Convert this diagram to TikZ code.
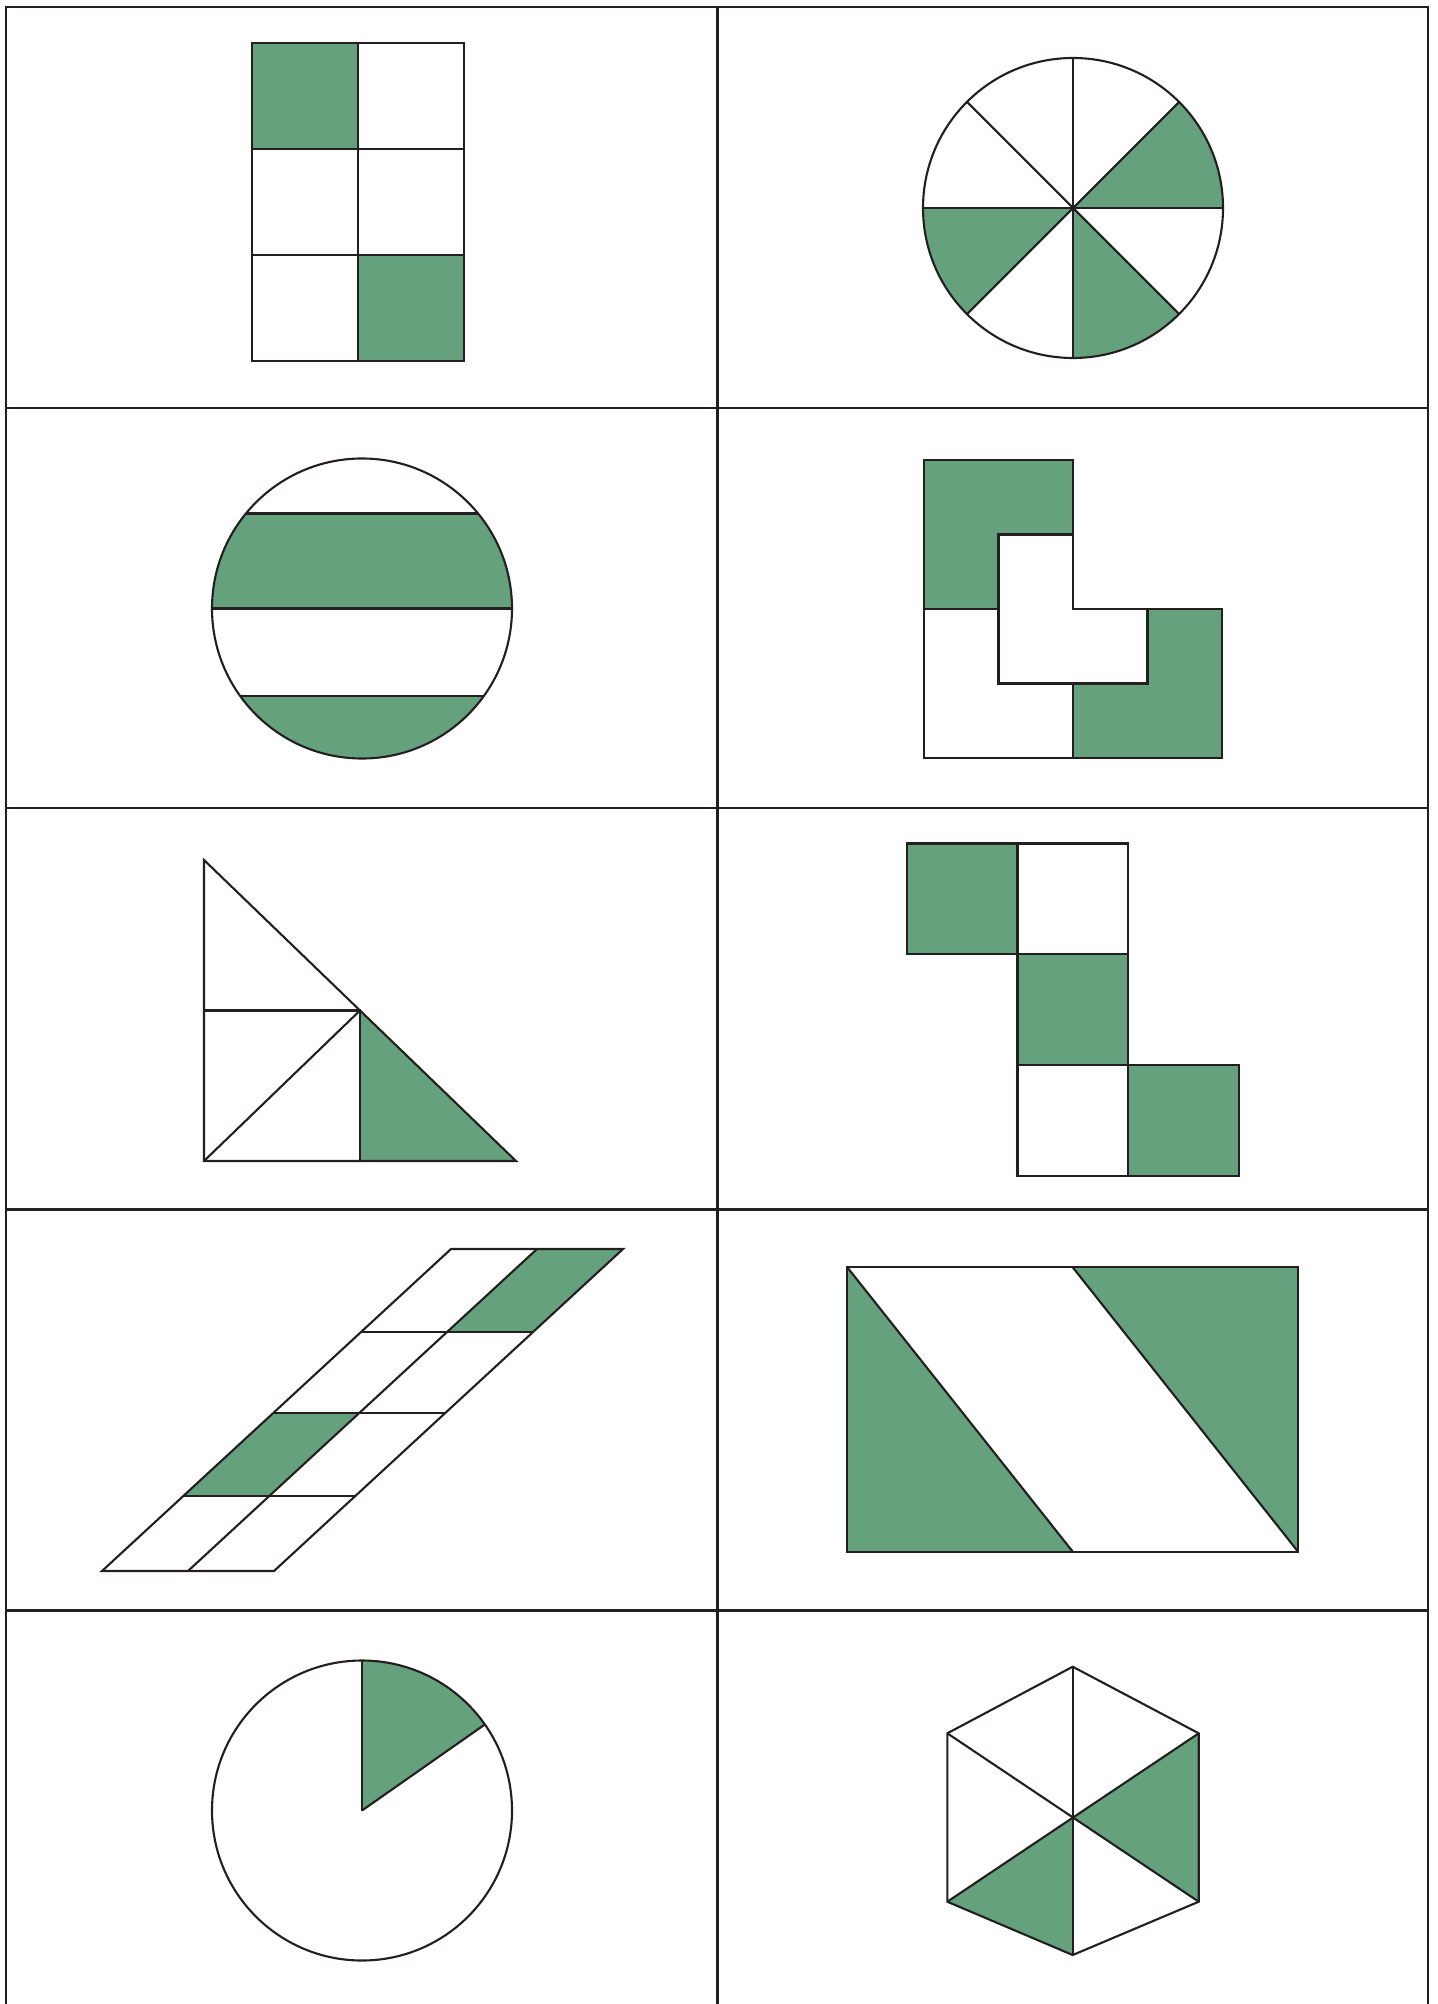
\documentclass[tikz,border=0pt]{standalone}
\usepackage{tikz}
\definecolor{shade}{RGB}{101,161,124}
\definecolor{ink}{RGB}{35,31,32}

\begin{document}
\begin{tikzpicture}[x=0.01cm,y=-0.01cm,line join=miter,
    rule/.style={draw=ink,line width=0.7pt},
    edge/.style={draw=ink,line width=0.6pt},
    part/.style={fill=shade}]
    \useasboundingbox (0,0) rectangle (1437,2004);

    % table
    \draw[rule] (6,2004) -- (6,7) -- (1428,7) -- (1428,2004);
    \draw[rule] (717.7,7) -- (717.7,2004);
    \foreach \y in {408,808,1209.5,1610.7}{
        \draw[rule] (6,\y) -- (1428,\y);
    }

    % rectangle of six squares
    \fill[part] (252,43) rectangle (358,149);
    \fill[part] (358,255) rectangle (464,361);
    \draw[edge] (252,43) rectangle (464,361);
    \draw[edge] (358,43) -- (358,361);
    \foreach \y in {149,255}{
        \draw[edge] (252,\y) -- (464,\y);
    }

    % circle in eight parts
    \coordinate (wheel) at (1073,208);
    \foreach \a in {-45,45,135}{
        \fill[part] (wheel) -- ++(\a:150) arc[start angle=\a,end angle=\a+45,radius=150] -- cycle;
    }
    \foreach \a in {0,45,...,315}{
        \draw[edge] (wheel) -- ++(\a:150);
    }
    \draw[edge] (wheel) circle[radius=150];

    % circle in bands
    \coordinate (bands) at (362,608.5);
    \begin{scope}
        \clip (bands) circle[radius=150];
        \fill[part] (200,513.5) rectangle (530,608.5);
        \fill[part] (200,696) rectangle (530,770);
        \foreach \y in {513.5,608.5,696}{
            \draw[edge] (200,\y) -- (530,\y);
        }
    \end{scope}
    \draw[edge] (bands) circle[radius=150];

    % square of four L pieces
    \draw[edge,part] (924,460) -- (1073,460) -- (1073,534.5) -- (998.5,534.5)
        -- (998.5,609) -- (924,609) -- cycle;
    \draw[edge] (998.5,534.5) -- (1073,534.5) -- (1073,609) -- (1147.5,609)
        -- (1147.5,683.5) -- (998.5,683.5) -- cycle;
    \draw[edge,part] (1073,683.5) -- (1147.5,683.5) -- (1147.5,609) -- (1222,609)
        -- (1222,758) -- (1073,758) -- cycle;
    \draw[edge] (924,609) -- (998.5,609) -- (998.5,683.5) -- (1073,683.5)
        -- (1073,758) -- (924,758) -- cycle;

    % right triangle
    \coordinate (tA) at (204,860);
    \coordinate (tB) at (204,1161);
    \coordinate (tC) at (516,1161);
    \coordinate (tM) at (360,1010.5);
    \coordinate (tF) at (360,1161);
    \fill[part] (tM) -- (tF) -- (tC) -- cycle;
    \draw[edge] (tA) -- (tB) -- (tC) -- cycle;
    \draw[edge] (204,1010.5) -- (tM) -- (tF);
    \draw[edge] (tB) -- (tM);

    % five squares
    \fill[part] (906.7,843.5) rectangle (1017.5,954);
    \fill[part] (1017.5,954) rectangle (1128.3,1065);
    \fill[part] (1128.3,1065) rectangle (1239.3,1175.7);
    \draw[edge] (906.7,843.5) rectangle (1017.5,954);
    \draw[edge] (1017.5,843.5) rectangle (1128.3,954);
    \draw[edge] (1017.5,954) rectangle (1128.3,1065);
    \draw[edge] (1017.5,1065) rectangle (1128.3,1175.7);
    \draw[edge] (1128.3,1065) rectangle (1239.3,1175.7);

    % parallelogram of eight cells
    \fill[part] (537,1249) -- (623,1249) -- (533.1,1332) -- (447.1,1332) -- cycle;
    \fill[part] (273.3,1413) -- (359.3,1413) -- (269.3,1496) -- (183.3,1496) -- cycle;
    \draw[edge] (102,1571) -- (274,1571) -- (623,1249) -- (451,1249) -- cycle;
    \draw[edge] (188,1571) -- (537,1249);
    \draw[edge] (361.1,1332) -- (533.1,1332);
    \draw[edge] (273.3,1413) -- (445.3,1413);
    \draw[edge] (183.3,1496) -- (355.3,1496);

    % rectangle with two triangles
    \fill[part] (847.3,1267.3) -- (847.3,1552) -- (1073,1552) -- cycle;
    \fill[part] (1072.7,1267.3) -- (1298.3,1267.3) -- (1298.3,1552) -- cycle;
    \draw[edge] (847.3,1267.3) rectangle (1298.3,1552);
    \draw[edge] (847.3,1267.3) -- (1073,1552);
    \draw[edge] (1072.7,1267.3) -- (1298.3,1552);

    % circle with one sector
    \coordinate (dial) at (362,1810.5);
    \fill[part] (dial) -- ++(-90:150) arc[start angle=-90,end angle=-35,radius=150] -- cycle;
    \draw[edge] (dial) circle[radius=150];
    \draw[edge] (dial) -- ++(-90:150);
    \draw[edge] (dial) -- ++(-35:150);

    % hexagon in six parts
    \coordinate (hT) at (1072.7,1666.7);
    \coordinate (hUL) at (947.3,1733.3);
    \coordinate (hUR) at (1198.7,1733.3);
    \coordinate (hO) at (1072.7,1817.7);
    \coordinate (hLL) at (947.3,1901.7);
    \coordinate (hLR) at (1198.7,1901.7);
    \coordinate (hB) at (1072.7,1955);
    \fill[part] (hO) -- (hUR) -- (hLR) -- cycle;
    \fill[part] (hO) -- (hLL) -- (hB) -- cycle;
    \draw[edge] (hT) -- (hUR) -- (hLR) -- (hB) -- (hLL) -- (hUL) -- cycle;
    \draw[edge] (hT) -- (hB);
    \draw[edge] (hUL) -- (hLR);
    \draw[edge] (hUR) -- (hLL);
\end{tikzpicture}
\end{document}
